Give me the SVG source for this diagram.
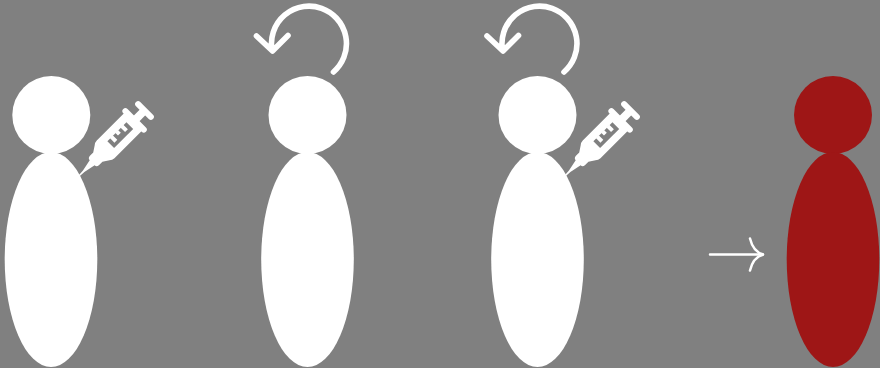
<svg xmlns="http://www.w3.org/2000/svg" xmlns:xlink="http://www.w3.org/1999/xlink" width="880" height="368" viewBox="0 0 880 368">
<style>
.w{fill:#fff}
.r{fill:#9e1616}
.c{fill:none;stroke:#fff;stroke-width:5.6;stroke-linecap:round;stroke-linejoin:round}
.a{fill:none;stroke:#fff;stroke-width:2.5;stroke-linecap:round}
</style>
<defs>
<g id="syr">
<rect x="-3" y="-12" width="6" height="24" rx="3" fill="#fff"/>
<rect x="0" y="-4" width="16" height="8" fill="#fff"/>
<rect x="11" y="-16" width="6" height="32" rx="3" fill="#fff"/>
<path d="M14 -12.500H55Q58 -12.500 60 -10.500L66 -6.500H71Q74 -6 74 -3.500L86 -1L103 0L86 1L74 3.500Q74 6 71 6.500H66L60 10.500Q58 12.500 55 12.500H14Z" fill="#fff"/>
<rect x="21" y="-5" width="27" height="9.500" fill="#808080"/>
<path d="M25 5h4v-6.500h-4zM32.500 5h4v-4h-4zM40 5h4v-6.500h-4z" fill="#fff"/>
</g>
<path id="rot" d="M333.500 72A37.500 37.500 0 1 0 272 50M256.500 36L272.500 51L288 35.500"/>
</defs>
<rect width="880" height="368" fill="#808080"/>
<g id="connectors">
<use xlink:href="#rot" href="#rot" class="c"/>
<use xlink:href="#rot" href="#rot" class="c" x="230.500"/>
<path class="a" d="M710 254.500H763"/>
<path class="a" d="M750 238.500C752 247 757 253 763.500 254.500C757 256 752 262 750 270.500"/>
</g>
<g id="person1"><circle class="w" cx="51.300" cy="115" r="39"/><ellipse class="w" cx="51" cy="259.500" rx="46.300" ry="107.500"/></g>
<g id="syringe1"><use xlink:href="#syr" href="#syr" transform="translate(144.500 110.500) rotate(135)"/></g>
<g id="person2"><circle class="w" cx="307.500" cy="115" r="39"/><ellipse class="w" cx="307.500" cy="259.500" rx="46.300" ry="107.500"/></g>
<g id="person3"><circle class="w" cx="537.500" cy="115" r="39"/><ellipse class="w" cx="537.500" cy="259.500" rx="46.300" ry="107.500"/></g>
<g id="syringe2"><use xlink:href="#syr" href="#syr" transform="translate(630.500 110.500) rotate(135)"/></g>
<g id="person4"><circle class="r" cx="833" cy="115" r="39"/><ellipse class="r" cx="833" cy="259.500" rx="46.300" ry="107.500"/></g>
</svg>
